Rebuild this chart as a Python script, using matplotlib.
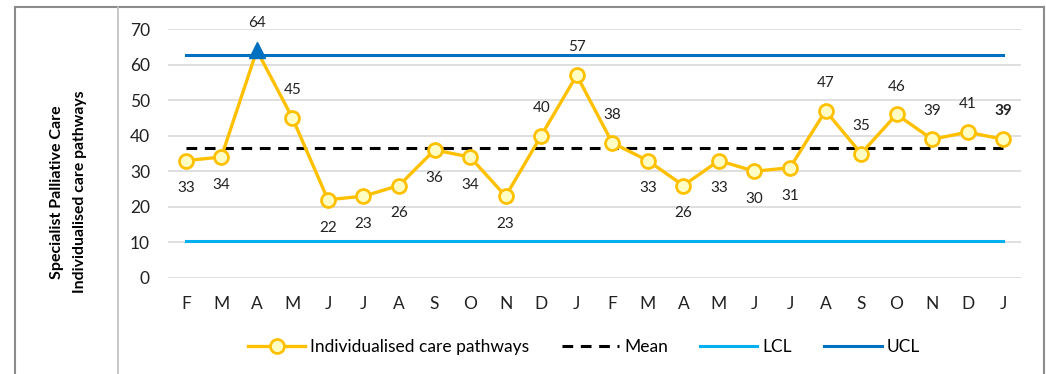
#!/usr/bin/env python3
"""Specialist palliative care - individualised care pathways SPC chart."""

import matplotlib.pyplot as plt
from matplotlib.lines import Line2D

months = ["F", "M", "A", "M", "J", "J", "A", "S", "O", "N", "D", "J",
          "F", "M", "A", "M", "J", "J", "A", "S", "O", "N", "D", "J"]
pathways = [33, 34, 64, 45, 22, 23, 26, 36, 34, 23, 40, 57,
            38, 33, 26, 33, 30, 31, 47, 35, 46, 39, 41, 39]
mean_val = 36.5
lcl_val = 10.3
ucl_val = 62.7
# which side of the point each data label sits
label_side = ["below", "below", "above", "above", "below", "below", "below", "below",
              "below", "below", "above", "above", "above", "below", "below", "below",
              "below", "below", "above", "above", "above", "above", "above", "above"]

W, H = 1046, 374
FONT = "Lato"


def main():
    plt.rcParams["font.family"] = [FONT, "DejaVu Sans"]
    fig = plt.figure(figsize=(W / 100, H / 100), dpi=100)
    ax = fig.add_axes([168 / W, 1 - 278 / H, (1021 - 168) / W, (278 - 29) / H])

    x = list(range(len(months)))
    n = len(x)
    normal_pts = [i for i, v in enumerate(pathways) if v <= ucl_val]

    ax.plot(x, pathways, "-o", color="#FFC000", linewidth=2.4, markersize=10,
            markerfacecolor="#FFFFC4", markeredgecolor="#FFC000", markeredgewidth=2,
            markevery=normal_pts, zorder=5, label="Individualised care pathways")
    ax.plot(x, [mean_val] * n, "--", color="black", linewidth=2.2, dashes=(3.5, 2.5),
            zorder=4, label="Mean")
    ax.plot(x, [lcl_val] * n, "-", color="#00B0F0", linewidth=2.2, zorder=3, label="LCL")
    ax.plot(x, [ucl_val] * n, "-", color="#0070C0", linewidth=2.2, zorder=3, label="UCL")

    # points above the UCL get a blue triangle
    for i, v in enumerate(pathways):
        if v > ucl_val:
            ax.plot(i, v, "^", color="#0070C0", markersize=12, zorder=6)

    for i, v in enumerate(pathways):
        dy = 20 if label_side[i] == "above" else -20
        weight = "bold" if i == n - 1 else "normal"
        ax.annotate(str(v), (i, v), xytext=(0, dy), textcoords="offset points",
                    ha="center", va="center", fontsize=11, color="#222222",
                    fontweight=weight)

    ax.set_xlim(-0.5, n - 0.5)
    ax.set_ylim(0, 70)
    ax.set_yticks(range(0, 71, 10))
    ax.set_xticks(x)
    ax.set_xticklabels(months)
    ax.tick_params(axis="both", length=0, labelsize=12.5, colors="#222222")
    ax.tick_params(axis="x", pad=13)
    ax.tick_params(axis="y", pad=13)
    ax.grid(axis="y", color="#D9D9D9", linewidth=1.2)
    ax.set_axisbelow(True)
    for s in ax.spines.values():
        s.set_visible(False)

    fig.text(57 / W, 1 - 192 / H, "Specialist Palliative Care", rotation=90,
             ha="center", va="center", fontsize=11.5, fontweight="bold")
    fig.text(80 / W, 1 - 192 / H, "Individualised care pathways", rotation=90,
             ha="center", va="center", fontsize=11.3, fontweight="bold")

    fig.legend(loc="center", bbox_to_anchor=(584 / W, 1 - 347 / H), ncol=4,
               frameon=False, fontsize=12.5, handlelength=3.3, columnspacing=1.85,
               handletextpad=0.3)

    # table-like frame round the chart
    frame = dict(transform=fig.transFigure, color="#8C8C8C", linewidth=1.5)
    fig.add_artist(Line2D([15 / W, 15 / W], [0, 1 - 7 / H], **frame))
    fig.add_artist(Line2D([15 / W, 1044 / W], [1 - 7 / H, 1 - 7 / H], **frame))
    fig.add_artist(Line2D([1044 / W, 1044 / W], [0, 1 - 7 / H], **frame))
    fig.add_artist(Line2D([118 / W, 118 / W], [0, 1 - 7 / H], transform=fig.transFigure,
                          color="#BFBFBF", linewidth=1.2))

    fig.savefig("out.png", dpi=100, facecolor="white")


if __name__ == "__main__":
    main()
